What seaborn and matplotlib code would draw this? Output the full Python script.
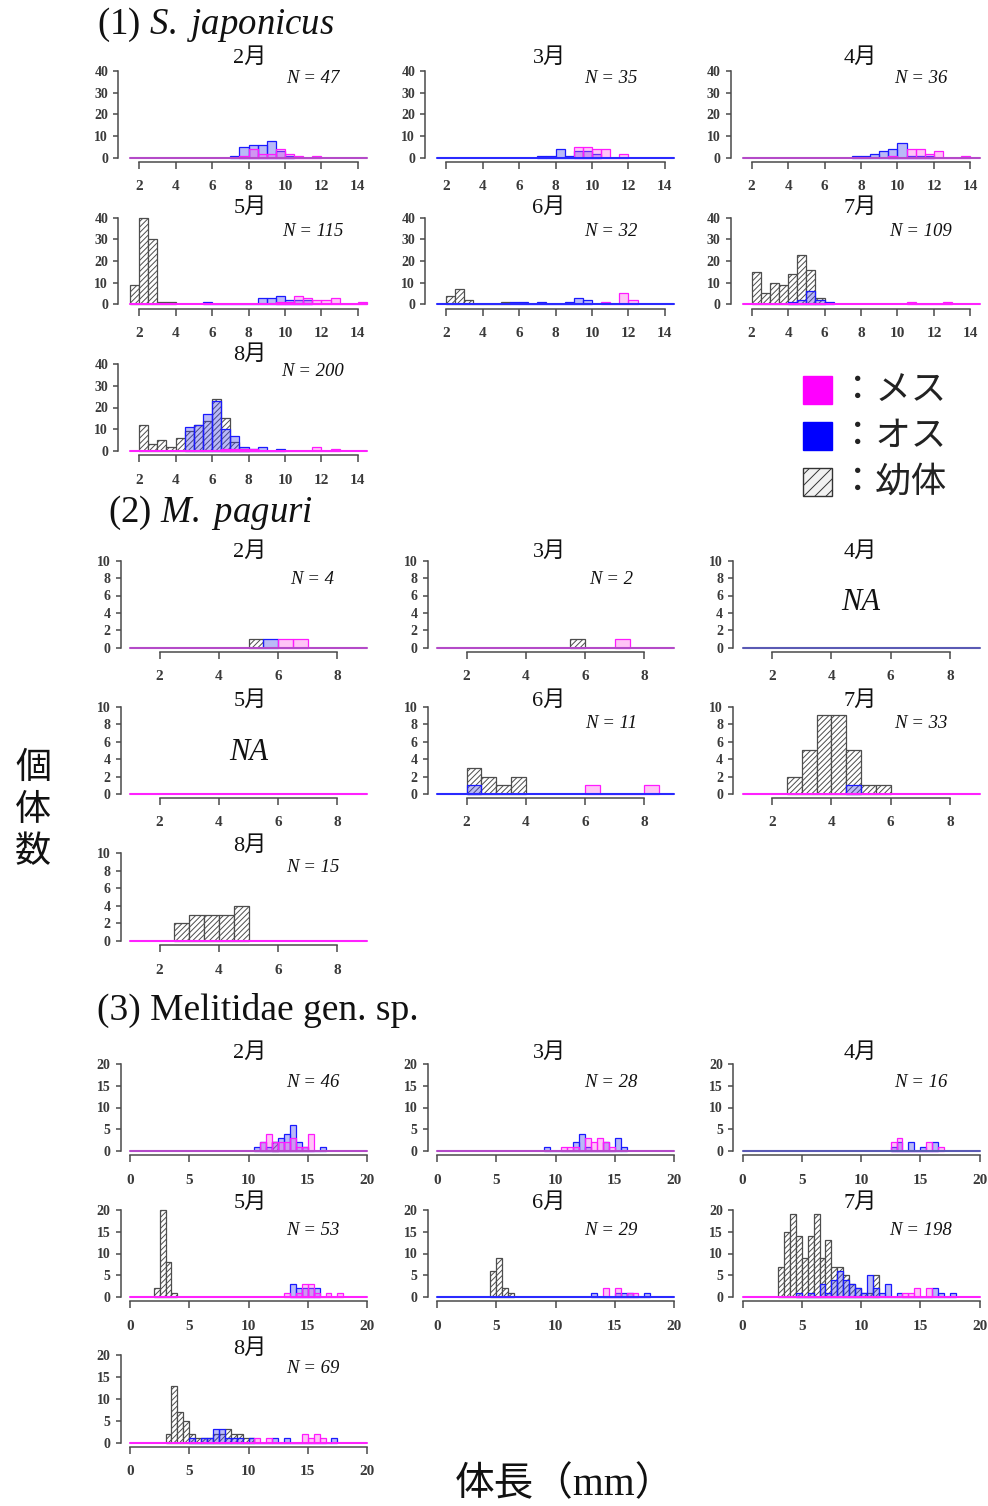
import numpy as np
import pandas as pd
import matplotlib
matplotlib.use("Agg")
import matplotlib.pyplot as plt
from matplotlib.patches import Rectangle
import seaborn as sns

# ---------------------------------------------------------------- data
MONTHS = ["2月", "3月", "4月", "5月", "6月", "7月", "8月"]
BIN_WIDTH = 0.5  # mm

# each entry: (lower edge of the first 0.5-mm bin, counts of consecutive bins); None = none
# (1) S. japonicus
S1_JUV = [None, None, None,
          (1.5, [9, 40, 30, 1, 1]),
          (2.0, [4, 7, 2, 0, 0, 0, 1]),
          (2.0, [15, 5, 10, 9, 14, 23, 16, 3]),
          (2.0, [12, 3, 5, 2, 6, 9, 12, 14, 24, 15, 4, 1])]
S1_MALE = [(7.0, [1, 5, 6, 6, 8, 3, 1]),
           (7.0, [1, 1, 4, 1, 3, 3, 2]),
           (7.5, [1, 1, 2, 3, 4, 7, 1, 1, 1]),
           (5.5, [1, 0, 0, 0, 0, 0, 3, 3, 4, 2, 2, 2]),
           (5.5, [1, 1, 0, 1, 0, 0, 1, 3, 2]),
           (4.0, [1, 2, 6, 2, 1]),
           (4.5, [11, 12, 17, 23, 10, 7, 2, 1, 2, 0, 1])]
S1_FEMALE = [(7.5, [1, 4, 2, 2, 4, 2, 1, 0, 1]),
             (9.0, [5, 5, 4, 4, 0, 2]),
             (9.5, [1, 0, 4, 4, 2, 3, 0, 0, 1]),
             (9.5, [1, 1, 4, 3, 2, 2, 3, 0, 0, 1]),
             (10.5, [1, 0, 5, 2]),
             (10.5, [1, 0, 0, 0, 1]),
             (6.5, [1, 1, 1, 1, 0, 0, 0, 0, 0, 0, 2, 0, 1])]
S1_N = [47, 35, 36, 115, 32, 109, 200]
S1_XTICKS = [2, 4, 6, 8, 10, 12, 14]
S1_YTICKS = [0, 10, 20, 30, 40]

# (2) M. paguri
S2_JUV = [(5.0, [1]), (5.5, [1]), None, None,
          (2.0, [3, 2, 1, 2]),
          (2.5, [2, 5, 9, 9, 5, 1, 1]),
          (2.5, [2, 3, 3, 3, 4])]
S2_MALE = [(5.5, [1]), None, None, None, (2.0, [1]), (4.5, [1]), None]
S2_FEMALE = [(6.0, [1, 1]), (7.0, [1]), None, None, (6.0, [1, 0, 0, 0, 1]), None, None]
S2_N = [4, 2, None, None, 11, 33, 15]
S2_XTICKS = [2, 4, 6, 8]
S2_YTICKS = [0, 2, 4, 6, 8, 10]

# (3) Melitidae gen. sp.
S3_JUV = [(12.0, [2]), None, None,
          (2.0, [2, 20, 8, 1]),
          (4.5, [6, 9, 2, 1]),
          (3.0, [7, 15, 19, 14, 9, 14, 19, 9, 13, 7, 7, 5, 3, 2, 1, 1, 5]),
          (3.0, [2, 13, 7, 5, 2, 1, 1, 1, 2, 2, 3, 2, 2, 1, 1])]
S3_MALE = [(10.5, [1, 2, 1, 2, 3, 4, 6, 2, 1, 0, 0, 1]),
           (9.0, [1, 0, 0, 0, 0, 2, 4, 1, 0, 0, 2, 0, 3, 1]),
           (12.5, [1, 2, 0, 2, 0, 1, 0, 2]),
           (13.5, [3, 2, 2, 2, 2]),
           (13.0, [1, 0, 0, 0, 1, 1, 1, 0, 0, 1]),
           (4.5, [1, 0, 1, 0, 3, 1, 4, 6, 4, 3, 2, 1, 5, 2, 1, 3, 0, 1, 0, 0, 0, 0, 0, 2, 1, 0, 1]),
           (5.0, [1, 0, 1, 1, 3, 3, 1, 1, 1, 0, 1, 0, 0, 0, 1, 0, 1, 0, 0, 0, 0, 0, 0, 0, 1])]
S3_FEMALE = [(11.0, [2, 4, 2, 2, 2, 3, 1, 1, 4]),
             (10.5, [1, 1, 1, 0, 3, 2, 3, 2, 1]),
             (12.5, [2, 3, 0, 0, 0, 0, 2, 0, 1]),
             (13.0, [1, 0, 1, 3, 3, 1, 0, 1, 0, 1]),
             (14.0, [2, 0, 2, 0, 1, 1]),
             (13.5, [1, 1, 2, 0, 2]),
             (10.5, [1, 0, 1, 0, 0, 0, 0, 0, 2, 1, 2, 1])]
S3_N = [46, 28, 16, 53, 29, 198, 69]
S3_XTICKS = [0, 5, 10, 15, 20]
S3_YTICKS = [0, 5, 10, 15, 20]

LEGEND_LABELS = ["：メス", "：オス", "：幼体"]

# ---------------------------------------------------------------- style / layout
MIX, BLU, MAG, BGR = "#b44ac8", "#2a2aff", "#ff22ff", "#5a5ab4"
S1_BASE = [MIX, BLU, MIX, MAG, BLU, MAG, MAG]
S2_BASE = [MIX, MIX, BGR, MAG, BLU, MAG, MAG]
S3_BASE = [MIX, MIX, BGR, MAG, BLU, MAG, MAG]

W, H = 988, 1506
COL_LEFT_PX = [130, 437, 742.5]
PANEL_W_PX = 237
ROWS_S1 = [(70.7, 158.0), (217.7, 304.3), (364.0, 451.0)]
ROWS_S2 = [(560.7, 647.7), (706.7, 794.0), (853.0, 941.0)]
ROWS_S3 = [(1064.0, 1151.0), (1210.0, 1297.0), (1355.0, 1442.5)]
TITLE_XFRAC = [0.506, 0.473, 0.496]
N_XFRAC = [0.77, 0.735, 0.752]

sns.set_style("ticks")
plt.rcParams["font.family"] = ["Liberation Serif", "Noto Sans CJK JP"]
plt.rcParams["mathtext.fontset"] = "custom"
plt.rcParams["mathtext.rm"] = "Liberation Serif"
plt.rcParams["mathtext.it"] = "Liberation Serif:italic"
plt.rcParams["hatch.linewidth"] = 0.7
plt.rcParams["hatch.color"] = "#555555"

fig = plt.figure(figsize=(W / 100, H / 100), dpi=100)
fig.patch.set_facecolor("white")


def fx(px):
    return px / W


def fy(py):
    return 1 - py / H


JUV_STYLE = dict(facecolor="white", edgecolor="#4d4d4d", hatch="//////")
MALE_STYLE = dict(facecolor=(0.25, 0.25, 0.92, 0.36), edgecolor="#1a1aff")
FEM_STYLE = dict(facecolor=(1.0, 0.3, 0.9, 0.33), edgecolor="#ff1aff")


def draw_series(ax, spec, style, z):
    if spec is None:
        return
    start, counts = spec
    counts = np.asarray(counts, dtype=float)
    lo = start
    hi = start + BIN_WIDTH * len(counts)
    centers = lo + BIN_WIDTH * (np.arange(len(counts)) + 0.5)
    df = pd.DataFrame({"length": centers, "count": counts})
    sns.histplot(data=df, x="length", weights="count", binwidth=BIN_WIDTH,
                 binrange=(lo, hi), ax=ax, element="bars", fill=True,
                 linewidth=0.9, zorder=z, clip_on=False, **style)


SECTIONS = [
    dict(juv=S1_JUV, male=S1_MALE, fem=S1_FEMALE, n=S1_N, base=S1_BASE, rows=ROWS_S1,
         xlim=(1.5, 14.5), xticks=S1_XTICKS, ymax=40, yticks=S1_YTICKS, yoff=12,
         title_off=[13, 9.5, 9], n_y=[0.915, 0.835, 0.91]),
    dict(juv=S2_JUV, male=S2_MALE, fem=S2_FEMALE, n=S2_N, base=S2_BASE, rows=ROWS_S2,
         xlim=(1, 9), xticks=S2_XTICKS, ymax=10, yticks=S2_YTICKS, yoff=9.5,
         title_off=[9, 5.5, 6.5], n_y=[0.78, 0.81, 0.83]),
    dict(juv=S3_JUV, male=S3_MALE, fem=S3_FEMALE, n=S3_N, base=S3_BASE, rows=ROWS_S3,
         xlim=(0, 20), xticks=S3_XTICKS, ymax=20, yticks=S3_YTICKS, yoff=9.5,
         title_off=[10.5, 6.5, 6], n_y=[0.79, 0.77, 0.85]),
]

for sec in SECTIONS:
    for i, month in enumerate(MONTHS):
        r, c = divmod(i, 3)
        top, zero = sec["rows"][r]
        hpx = zero - top
        ax = fig.add_axes([fx(COL_LEFT_PX[c]), fy(zero), PANEL_W_PX / W, hpx / H])
        ax.patch.set_visible(False)
        draw_series(ax, sec["juv"][i], JUV_STYLE, 2)
        draw_series(ax, sec["male"][i], MALE_STYLE, 3)
        draw_series(ax, sec["fem"][i], FEM_STYLE, 4)
        ax.axhline(0, color=sec["base"][i], lw=1.5, zorder=5, clip_on=False)
        ax.set_xlim(*sec["xlim"])
        ax.set_ylim(0, sec["ymax"])
        ax.set_xticks(sec["xticks"])
        ax.set_yticks(sec["yticks"])
        ax.set_xlabel("")
        ax.set_ylabel("")
        for s in ("top", "right"):
            ax.spines[s].set_visible(False)
        for s in ("left", "bottom"):
            ax.spines[s].set_color("#4a4a4a")
            ax.spines[s].set_linewidth(1.1)
        ax.spines["left"].set_position(("outward", sec["yoff"] * 0.72))
        ax.spines["bottom"].set_position(("outward", 3.2))
        ax.spines["left"].set_bounds(0, sec["ymax"])
        ax.spines["bottom"].set_bounds(sec["xticks"][0], sec["xticks"][-1])
        ax.tick_params(axis="x", length=5, width=1.1, pad=8, labelsize=11,
                       color="#4a4a4a", labelcolor="#3a3a3a")
        ax.tick_params(axis="y", length=3.6, width=1.1, pad=3.5, labelsize=10,
                       color="#4a4a4a", labelcolor="#3a3a3a")
        for lab in ax.get_xticklabels() + ax.get_yticklabels():
            lab.set_fontweight("bold")
        ax.text(TITLE_XFRAC[c], 1 + sec["title_off"][r] / hpx, month,
                transform=ax.transAxes, ha="center", va="center", fontsize=16,
                color="#111111")
        n = sec["n"][i]
        if n is None:
            ax.text(0.5, 0.52 if r == 0 else 0.48, "NA", transform=ax.transAxes,
                    ha="center", va="center", fontsize=22, fontstyle="italic",
                    color="#111111")
        else:
            ax.text(N_XFRAC[c], sec["n_y"][r], f"N = {n}", transform=ax.transAxes,
                    ha="center", va="center", fontsize=13.5, fontstyle="italic",
                    color="#111111")

# section titles
fig.text(fx(97), fy(25), r"(1) $\mathit{S.\ japonicus}$", fontsize=26.5, va="center",
         color="#111111")
fig.text(fx(108), fy(513), r"(2) $\mathit{M.\ paguri}$", fontsize=26.5, va="center",
         color="#111111")
fig.text(fx(97), fy(1010), "(3) Melitidae gen. sp.", fontsize=27, va="center",
         color="#111111")

# legend
LEG_STYLES = [dict(facecolor="#ff00ff", edgecolor="#ff00ff"),
              dict(facecolor="#0000ff", edgecolor="#0000ff"),
              dict(facecolor="#f2f2f2", edgecolor="#333333", hatch="///")]
for k, (lab, st) in enumerate(zip(LEGEND_LABELS, LEG_STYLES)):
    y_top = 376 + k * 46
    fig.add_artist(Rectangle((fx(803), fy(y_top + 28)), 29 / W, 28 / H,
                             transform=fig.transFigure, lw=1, **st))
    fig.text(fx(840), fy(y_top + 14), lab, fontsize=25.5, va="center", ha="left",
             family=["Noto Sans CJK JP"], color="#222222")

# axis labels
for ch, yy in zip("個体数", [768, 810, 852]):
    fig.text(fx(33), fy(yy), ch, fontsize=26, ha="center", va="center",
             family=["Noto Sans CJK JP"], color="#111111")
fig.text(fx(565), fy(1485), "体長（mm）", fontsize=28.5, ha="center", va="center",
         color="#111111")

fig.savefig("out.png", dpi=100, facecolor="white")
